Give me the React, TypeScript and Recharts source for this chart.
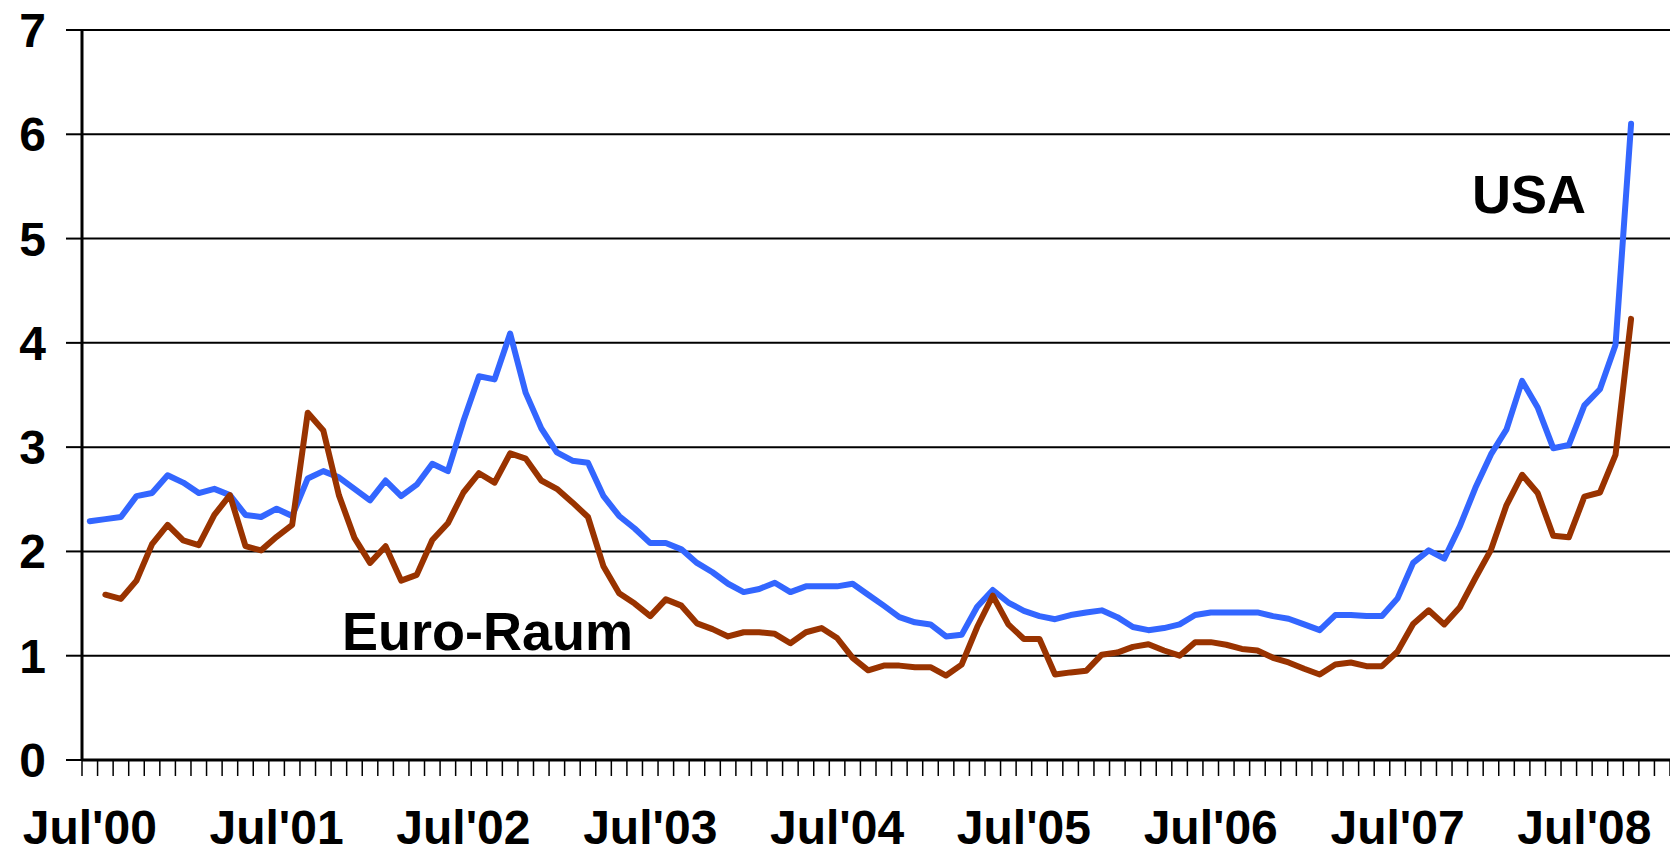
import { LineChart, Line, XAxis, YAxis, CartesianGrid } from 'recharts';

// monthly categories, Jul'00 .. Dec'08 (the last ones have no data yet)
const monthNames = ['Jan', 'Feb', 'Mar', 'Apr', 'May', 'Jun', 'Jul', 'Aug', 'Sep', 'Oct', 'Nov', 'Dec'];
const startYear = 2000;
const startMonth = 6;
const monthCount = 102;
const months = Array.from({ length: monthCount }, (_, i) => {
  const m = startMonth + i;
  const yy = String((startYear + Math.floor(m / 12)) % 100).padStart(2, '0');
  return `${monthNames[m % 12]}'${yy}`;
});

const julyLabels = ["Jul'00", "Jul'01", "Jul'02", "Jul'03", "Jul'04", "Jul'05", "Jul'06", "Jul'07", "Jul'08"];
const yTicks = [0, 1, 2, 3, 4, 5, 6, 7];

const usa = [
  2.29, 2.31, 2.33, 2.53, 2.56, 2.73, 2.66, 2.56, 2.60, 2.54, 2.35, 2.33,
  2.41, 2.34, 2.70, 2.77, 2.71, 2.60, 2.49, 2.68, 2.53, 2.64, 2.84, 2.77,
  3.25, 3.68, 3.65, 4.09, 3.52, 3.18, 2.95, 2.87, 2.85, 2.53, 2.34, 2.22,
  2.08, 2.08, 2.02, 1.89, 1.80, 1.69, 1.61, 1.64, 1.70, 1.61, 1.665, 1.665,
  1.665, 1.69, 1.585, 1.48, 1.37, 1.32, 1.30, 1.185, 1.20, 1.47, 1.63, 1.51,
  1.43, 1.38, 1.35, 1.39, 1.415, 1.435, 1.37, 1.275, 1.245, 1.265, 1.30, 1.39,
  1.415, 1.415, 1.415, 1.415, 1.38, 1.355, 1.30, 1.245, 1.39, 1.39, 1.38, 1.38,
  1.55, 1.89, 2.01, 1.93, 2.24, 2.61, 2.93, 3.17, 3.635, 3.38, 2.99, 3.02,
  3.40, 3.555, 3.98, 6.10,
];

const euro = [
  null, 1.585, 1.545, 1.72, 2.07, 2.255, 2.105, 2.06, 2.35, 2.54, 2.05, 2.01,
  2.14, 2.255, 3.33, 3.16, 2.54, 2.13, 1.89, 2.05, 1.72, 1.775, 2.11, 2.27,
  2.565, 2.75, 2.66, 2.94, 2.89, 2.68, 2.60, 2.47, 2.33, 1.855, 1.60, 1.50,
  1.38, 1.54, 1.48, 1.31, 1.255, 1.185, 1.225, 1.225, 1.21, 1.12, 1.225, 1.265,
  1.17, 0.98, 0.86, 0.905, 0.905, 0.89, 0.89, 0.81, 0.915, 1.275, 1.575, 1.30,
  1.16, 1.16, 0.82, 0.84, 0.855, 1.01, 1.03, 1.085, 1.11, 1.05, 1.00, 1.13,
  1.13, 1.105, 1.065, 1.05, 0.98, 0.935, 0.875, 0.82, 0.915, 0.935, 0.90, 0.90,
  1.04, 1.305, 1.435, 1.30, 1.465, 1.745, 2.015, 2.445, 2.735, 2.56, 2.15, 2.135,
  2.525, 2.565, 2.925, 4.23,
];

// each month sits in the middle of its slot; tick marks go on the slot borders
const data = months.map((m, i) => ({ month: m, pos: i + 0.5, usa: usa[i] ?? null, euro: euro[i] ?? null }));
const borders = [...months.map((_, i) => i), months.length];
const labelPos = julyLabels.map((l) => months.indexOf(l) + 0.5);

const font = '"Liberation Sans", Arial, sans-serif';

function XTick({ x, y, payload }: any) {
  const v = payload.value;
  if (Number.isInteger(v)) {
    return <line x1={x} y1={y} x2={x} y2={y + 16} stroke="#000" strokeWidth={1.5} />;
  }
  return (
    <text x={x} y={y + 84} textAnchor="middle" fontFamily={font} fontWeight="bold" fontSize={48} fill="#000">
      {months[v - 0.5]}
    </text>
  );
}

export default function App() {
  return (
    <div style={{ position: 'absolute', left: 0, top: 0, width: 1670, height: 854, background: '#fff' }}>
      <LineChart width={1670} height={854} data={data} margin={{ top: 30, right: 0, bottom: 0, left: 0 }}>
        <CartesianGrid vertical={false} stroke="#000" strokeWidth={2} />
        <XAxis
          type="number"
          dataKey="pos"
          domain={[0, months.length]}
          ticks={[...borders, ...labelPos]}
          interval={0}
          tick={<XTick />}
          tickLine={false}
          tickSize={0}
          tickMargin={0}
          height={94}
          axisLine={{ stroke: '#000', strokeWidth: 3 }}
        />
        <YAxis
          domain={[0, 7]}
          ticks={yTicks}
          interval={0}
          width={82}
          tickSize={16}
          tickMargin={20}
          tickLine={{ stroke: '#000', strokeWidth: 2 }}
          axisLine={{ stroke: '#000', strokeWidth: 3 }}
          tick={{ fill: '#000', fontSize: 48, fontWeight: 'bold', fontFamily: font }}
        />
        <Line type="linear" dataKey="usa" stroke="#3366FF" strokeWidth={6} dot={false} strokeLinejoin="round" strokeLinecap="round" isAnimationActive={false} />
        <Line type="linear" dataKey="euro" stroke="#993300" strokeWidth={6} dot={false} strokeLinejoin="round" strokeLinecap="round" isAnimationActive={false} />
      </LineChart>
      <svg width={1670} height={854} style={{ position: 'absolute', left: 0, top: 0, pointerEvents: 'none' }}>
        <text x={1472} y={213} fontFamily={font} fontWeight="bold" fontSize={54} fill="#000">USA</text>
        <text x={342} y={650} fontFamily={font} fontWeight="bold" fontSize={54} fill="#000">Euro-Raum</text>
      </svg>
    </div>
  );
}
